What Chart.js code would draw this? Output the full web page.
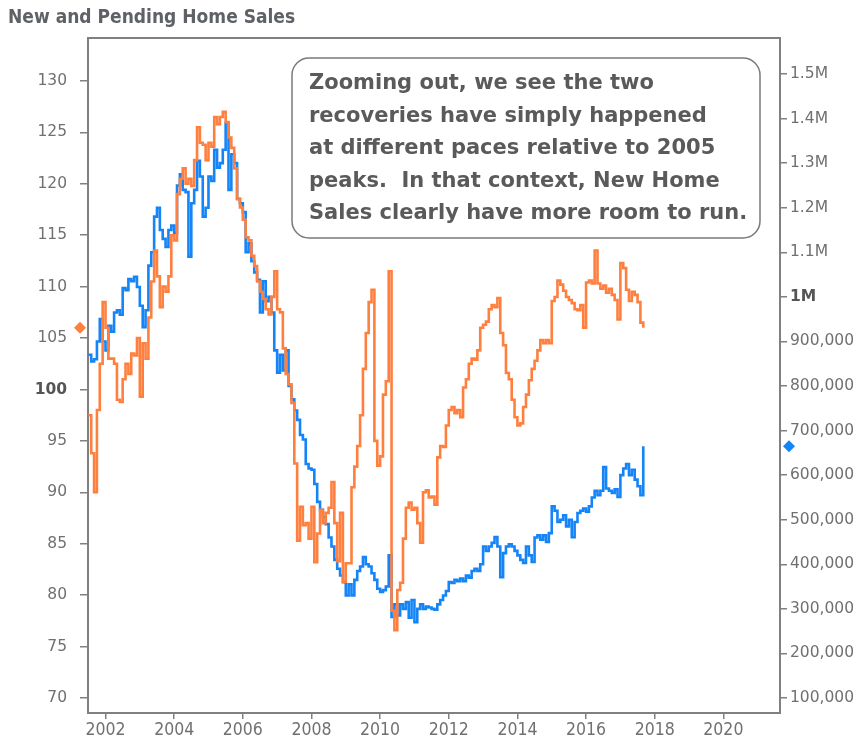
<!DOCTYPE html>
<html>
<head>
<meta charset="utf-8">
<script src="https://cdn.jsdelivr.net/npm/chart.js@4.4.0/dist/chart.umd.min.js"></script>
<style>
  html, body { margin: 0; padding: 0; background: #fff; }
  #wrap { width: 867px; height: 744px; position: relative; }
</style>
</head>
<body>
<div id="wrap"><canvas id="chart" width="867" height="744"></canvas></div>
<script>
// monthly data, first point = July 2001, last = Sept 2017
const startYear = 2001;
const startMonth = 7;

// Pending Home Sales Index (left axis)
const pendingIndex = [
  97.5, 93.8, 90, 98, 102.5, 108.5,
  106, 103, 103, 102.5, 99, 98.8, 101, 102.5, 101.5, 103.5, 103.3, 105,
  99.3, 104.5, 103, 107, 110.5, 113.5, 111, 108, 110, 109.5, 111, 115,
  114.5, 119, 120.5, 121.5, 120, 120.5, 119.8, 122.3, 125.5, 124, 123.8, 122.3,
  124, 123.6, 126.5, 125.8, 126.5, 127, 126, 124.5, 123.5, 121.5, 118.5, 117.7,
  116.5, 114.8, 114.5, 113, 112, 110.5, 109.5, 108.8, 107.8, 107.3, 109, 111.5,
  107.8, 107.5, 104, 101.5, 100.5, 98.7, 92.8, 85.3, 88.6, 86.8, 87, 85.5,
  88.6, 83.2, 86, 88.3, 87, 88, 88.5, 91, 87, 83.3, 88, 81.3,
  83.1, 83.1, 90.5, 92.5, 94.5, 97.5, 102, 105.5, 108.5, 109.7, 95, 92.6,
  93.5, 99.5, 100.8, 111.5, 78.5, 76.6, 80.5, 81.2, 85.5, 88.5, 89, 88.3,
  88.5, 87, 85.1, 90, 90.2, 89.5, 89.6, 88.8, 93.4, 94.5, 94.4, 96.5,
  98, 98.3, 97.7, 98, 97.3, 100.2, 101, 102.5, 103, 102.9, 103.8, 106,
  106.3, 106.6, 107.8, 108.2, 108, 108.9, 105.5, 104.3, 101.6, 101, 99, 97.3,
  96.5, 96.7, 98.3, 99.5, 100.9, 102, 102.8, 103.8, 104.8, 104.5, 104.8, 104.5,
  108.6, 109, 110.6, 110.2, 109.6, 109, 108.7, 108.4, 107.8, 107.7, 108.2, 106,
  110.4, 110.6, 110.3, 113.5, 110.3, 109.8, 110.1, 109.4, 109.8, 109.2, 108.7, 106.8,
  112.3, 111.8, 109.7, 108.6, 109.5, 109.2, 108.5, 106.5, 106
];

// New Home Sales, thousands SAAR (right axis)
const newHomeSales = [
  870, 855, 860, 900, 950, 900,
  880, 935, 922, 965, 970, 960, 1020, 1015, 1040, 1035, 1045, 1022,
  980, 932, 970, 1070, 1100, 1180, 1200, 1150, 1130, 1112, 1150, 1160,
  1143, 1250, 1275, 1240, 1235, 1090, 1210, 1240, 1305, 1270, 1180, 1200,
  1270, 1260, 1330, 1290, 1300, 1330, 1390, 1240, 1320, 1300, 1220, 1210,
  1190, 1100, 1120, 1080, 1055, 1038, 965, 1035, 990, 1000, 965, 880,
  830, 870, 835, 880, 800, 770, 745, 724, 690, 680, 625, 615,
  612, 580, 540, 522, 506, 490, 460, 440, 410, 390, 375, 360,
  330, 355, 330, 365, 385, 395, 416, 400, 395, 380, 365, 345,
  338, 342, 350, 420, 282, 310, 285, 310, 300, 315, 280, 320,
  270, 300, 310, 300, 305, 303, 300, 298, 310, 320, 330, 340,
  360, 358, 365, 362, 368, 362, 375, 370, 385, 390, 385, 400,
  440, 430, 440, 448, 461, 440, 371, 425, 440, 445, 440, 430,
  420, 410, 403, 440, 420, 405, 460, 465, 455, 465, 450, 470,
  530, 520, 495, 500, 510, 485, 500, 461, 495, 515, 520, 525,
  518, 530, 550, 565, 555, 565, 618, 570, 565, 560, 568, 551,
  600, 615, 625, 600, 612, 590, 575, 555, 665
];

const yearTicks = [2002, 2004, 2006, 2008, 2010, 2012, 2014, 2016, 2018, 2020];
const leftTicks = [70, 75, 80, 85, 90, 95, 100, 105, 110, 115, 120, 125, 130];
const rightTicks = [100000, 200000, 300000, 400000, 500000, 600000, 700000, 800000,
  900000, 1000000, 1100000, 1200000, 1300000, 1400000, 1500000];

const titleText = 'New and Pending Home Sales';
const noteLines = [
  'Zooming out, we see the two',
  'recoveries have simply happened',
  'at different paces relative to 2005',
  'peaks.  In that context, New Home',
  'Sales clearly have more room to run.'
];

const orange = '#ff7f3f';
const blue = '#1484f7';
const axisGray = '#808080';
const labelGray = '#707070';

function monthPos(i) {
  return startYear + (startMonth - 1 + i) / 12;
}

function fmtRight(v) {
  if (v >= 1000000) return (v / 1000000) + 'M';
  return v.toLocaleString('en-US');
}

function diamond(ctx, x, y, r, color) {
  ctx.beginPath();
  ctx.moveTo(x, y - r);
  ctx.lineTo(x + r, y);
  ctx.lineTo(x, y + r);
  ctx.lineTo(x - r, y);
  ctx.closePath();
  ctx.fillStyle = color;
  ctx.fill();
}

const extras = {
  id: 'extras',
  beforeDatasetsDraw(chart) {
    const { ctx, chartArea: a } = chart;
    ctx.save();
    ctx.strokeStyle = axisGray;
    ctx.lineWidth = 2;
    ctx.strokeRect(a.left, a.top, a.right - a.left, a.bottom - a.top);
    ctx.restore();
  },
  afterDraw(chart) {
    const { ctx, chartArea: a } = chart;
    ctx.save();
    // title
    ctx.fillStyle = '#5e6166';
    ctx.font = 'bold 19px "DejaVu Sans Condensed"';
    ctx.textBaseline = 'middle';
    ctx.textAlign = 'left';
    ctx.fillText(titleText, 8, 18);

    // last value markers
    const yl = chart.scales.yL, yr = chart.scales.yR;
    diamond(ctx, a.left - 8, yl.getPixelForValue(pendingIndex[pendingIndex.length - 1]), 6, orange);
    diamond(ctx, a.right + 9, yr.getPixelForValue(newHomeSales[newHomeSales.length - 1] * 1000), 6, blue);

    // note box
    const bx = 292, by = 58, bw = 468, bh = 180, r = 17;
    ctx.beginPath();
    ctx.roundRect(bx, by, bw, bh, r);
    ctx.fillStyle = '#fff';
    ctx.fill();
    ctx.strokeStyle = '#7a7a7a';
    ctx.lineWidth = 1.5;
    ctx.stroke();
    ctx.fillStyle = '#5a5a5a';
    ctx.font = 'bold 21px "DejaVu Sans"';
    noteLines.forEach((t, i) => ctx.fillText(t, 309, 84 + i * 32.4));
    ctx.restore();
  }
};

const tickFont = (bigVal) => (c) => ({
  family: 'DejaVu Sans',
  size: 15.5,
  weight: c.tick && c.tick.value === bigVal ? 'bold' : 'normal'
});
const tickColor = (bigVal) => (c) => (c.tick && c.tick.value === bigVal ? '#555' : labelGray);

const ctx = document.getElementById('chart').getContext('2d');
new Chart(ctx, {
  type: 'line',
  data: {
    datasets: [
      {
        label: 'Pending Home Sales Index',
        data: pendingIndex.map((v, i) => ({ x: monthPos(i), y: v })),
        yAxisID: 'yL',
        borderColor: orange,
        borderWidth: 2.6,
        pointRadius: 0,
        stepped: true
      },
      {
        label: 'New Home Sales',
        data: newHomeSales.map((v, i) => ({ x: monthPos(i), y: v * 1000 })),
        yAxisID: 'yR',
        borderColor: blue,
        borderWidth: 2.6,
        pointRadius: 0,
        stepped: true
      }
    ]
  },
  options: {
    responsive: false,
    animation: false,
    layout: { padding: { top: 38, left: 0, right: 0, bottom: 0 } },
    plugins: { legend: { display: false }, tooltip: { enabled: false } },
    scales: {
      x: {
        type: 'linear',
        min: 2001.49,
        max: 2021.65,
        afterBuildTicks: s => { s.ticks = yearTicks.map(v => ({ value: v })); },
        afterFit: s => { s.height = 31; },
        grid: { drawOnChartArea: false, tickLength: 6, tickColor: axisGray, lineWidth: 1.5 },
        border: { color: axisGray, width: 2 },
        ticks: {
          autoSkip: false, maxRotation: 0, padding: 1,
          color: labelGray,
          font: { family: 'DejaVu Sans Condensed', size: 17.5 },
          callback: v => String(v)
        }
      },
      yL: {
        position: 'left',
        min: 68.54,
        max: 134.18,
        afterBuildTicks: s => { s.ticks = leftTicks.map(v => ({ value: v })); },
        afterFit: s => { s.width = 88; },
        grid: { drawOnChartArea: false, tickLength: 8, tickColor: axisGray, lineWidth: 1.5 },
        border: { color: axisGray, width: 2 },
        ticks: {
          padding: 13,
          color: tickColor(100),
          font: tickFont(100),
          callback: v => String(v)
        }
      },
      yR: {
        position: 'right',
        min: 66345,
        max: 1580770,
        afterBuildTicks: s => { s.ticks = rightTicks.map(v => ({ value: v })); },
        afterFit: s => { s.width = 87; },
        grid: { drawOnChartArea: false, tickLength: 7, tickColor: axisGray, lineWidth: 1.5 },
        border: { color: axisGray, width: 2 },
        ticks: {
          padding: 3,
          color: tickColor(1000000),
          font: tickFont(1000000),
          callback: v => fmtRight(v)
        }
      }
    }
  },
  plugins: [extras]
});
</script>
</body>
</html>
